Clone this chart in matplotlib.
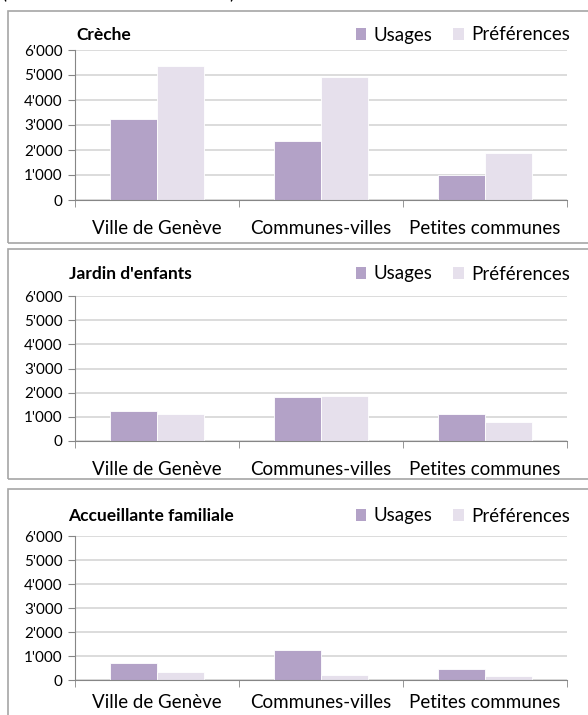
import matplotlib
matplotlib.use("Agg")
import matplotlib.pyplot as plt
from matplotlib.patches import Rectangle, Patch
from matplotlib.ticker import FuncFormatter, FixedLocator
import numpy as np

# ---------------- data ----------------
categories = ["Ville de Genève", "Communes-villes", "Petites communes"]
series_names = ["Usages", "Préférences"]
panel_titles = ["Crèche", "Jardin d'enfants", "Accueillante familiale"]

creche_usages = [3250, 2350, 990]
creche_prefs = [5350, 4920, 1900]
jardin_usages = [1260, 1830, 1130]
jardin_prefs = [1120, 1850, 770]
accueil_usages = [700, 1270, 440]
accueil_prefs = [340, 220, 180]

y_ticks = [0, 1000, 2000, 3000, 4000, 5000, 6000]

# ---------------- style ----------------
W, H = 588, 715
FONT = "Lato"
C_USE = "#B3A2C7"
C_PREF = "#E6E0EC"
GRID = "#D9D9D9"
AXIS = "#868686"
BORDER = "#A6A6A6"
FS_TICK = 11
FS_CAT = 13.5
FS_LEG = 13.5
FS_TITLE = 12.5

plt.rcParams["font.family"] = [FONT, "DejaVu Sans"]

fig = plt.figure(figsize=(W / 100, H / 100), dpi=100)


def fx(px):
    return px / W


def fy(py):
    return 1 - py / H


panel_boxes = [(8, 11, 600, 243), (8, 249, 600, 479), (8, 489, 600, 730)]
axes_boxes = [(75, 50, 567, 200), (75, 296, 567, 441), (75, 536, 567, 680)]
title_pos = [(76, 35), (69, 274), (68, 516)]
label_pads = [14.5, 14.5, 10]
data = [(creche_usages, creche_prefs), (jardin_usages, jardin_prefs),
        (accueil_usages, accueil_prefs)]

# partially visible text line at the very top
fig.text(fx(1), fy(-8), "(", fontsize=13.5, color="black", va="center", ha="left")
fig.text(fx(229), fy(-8), ")", fontsize=13.5, color="black", va="center", ha="left")

fmt = FuncFormatter(lambda v, p: f"{int(v):,}".replace(",", "'"))

for i in range(3):
    l, t, r, b = panel_boxes[i]
    fig.patches.append(Rectangle((fx(l), fy(b)), fx(r - l), (b - t) / H,
                                 transform=fig.transFigure, fill=False,
                                 edgecolor=BORDER, linewidth=1.2))
    al, at, ar, ab = axes_boxes[i]
    ax = fig.add_axes([fx(al), fy(ab), fx(ar - al), (ab - at) / H])
    usages, prefs = data[i]
    x = np.arange(len(categories))
    w = 0.287
    ax.bar(x - w / 2, usages, width=w, color=C_USE, edgecolor="white",
           linewidth=0.6, zorder=3, label=series_names[0])
    ax.bar(x + w / 2, prefs, width=w, color=C_PREF, edgecolor="white",
           linewidth=0.6, zorder=3, label=series_names[1])
    ax.set_xlim(-0.5, len(categories) - 0.5)
    ax.set_ylim(0, 6000)
    ax.set_yticks(y_ticks)
    ax.yaxis.set_major_formatter(fmt)
    ax.grid(axis="y", color=GRID, linewidth=1.3, zorder=0)
    ax.set_axisbelow(True)
    for s in ["top", "right"]:
        ax.spines[s].set_visible(False)
    ax.spines["left"].set_color(AXIS)
    ax.spines["bottom"].set_color(AXIS)
    ax.spines["left"].set_zorder(4)
    ax.spines["bottom"].set_zorder(4)
    ax.xaxis.set_major_locator(FixedLocator(x))
    ax.set_xticklabels(categories)
    ax.xaxis.set_minor_locator(FixedLocator(np.arange(-0.5, len(categories), 1.0)))
    ax.tick_params(axis="x", which="major", length=0, pad=label_pads[i],
                   labelsize=FS_CAT)
    ax.tick_params(axis="x", which="minor", length=5, color=AXIS, direction="out")
    ax.tick_params(axis="y", length=5, color=AXIS, labelsize=FS_TICK, pad=4)
    ax.set_facecolor("none")

    tx, ty = title_pos[i]
    fig.text(fx(tx), fy(ty), panel_titles[i], fontsize=FS_TITLE, fontweight="bold",
             ha="left", va="center")
    handles = [Patch(facecolor=C_USE, edgecolor="none"),
               Patch(facecolor=C_PREF, edgecolor="none")]
    ax.legend(handles, series_names, loc="center right",
              bbox_to_anchor=(fx(570), fy(ty)), bbox_transform=fig.transFigure,
              ncol=2, frameon=False, fontsize=FS_LEG, handlelength=0.55,
              handleheight=0.6, handletextpad=0.4, columnspacing=1.1,
              borderpad=0, borderaxespad=0)

fig.savefig("out.png", dpi=100)
